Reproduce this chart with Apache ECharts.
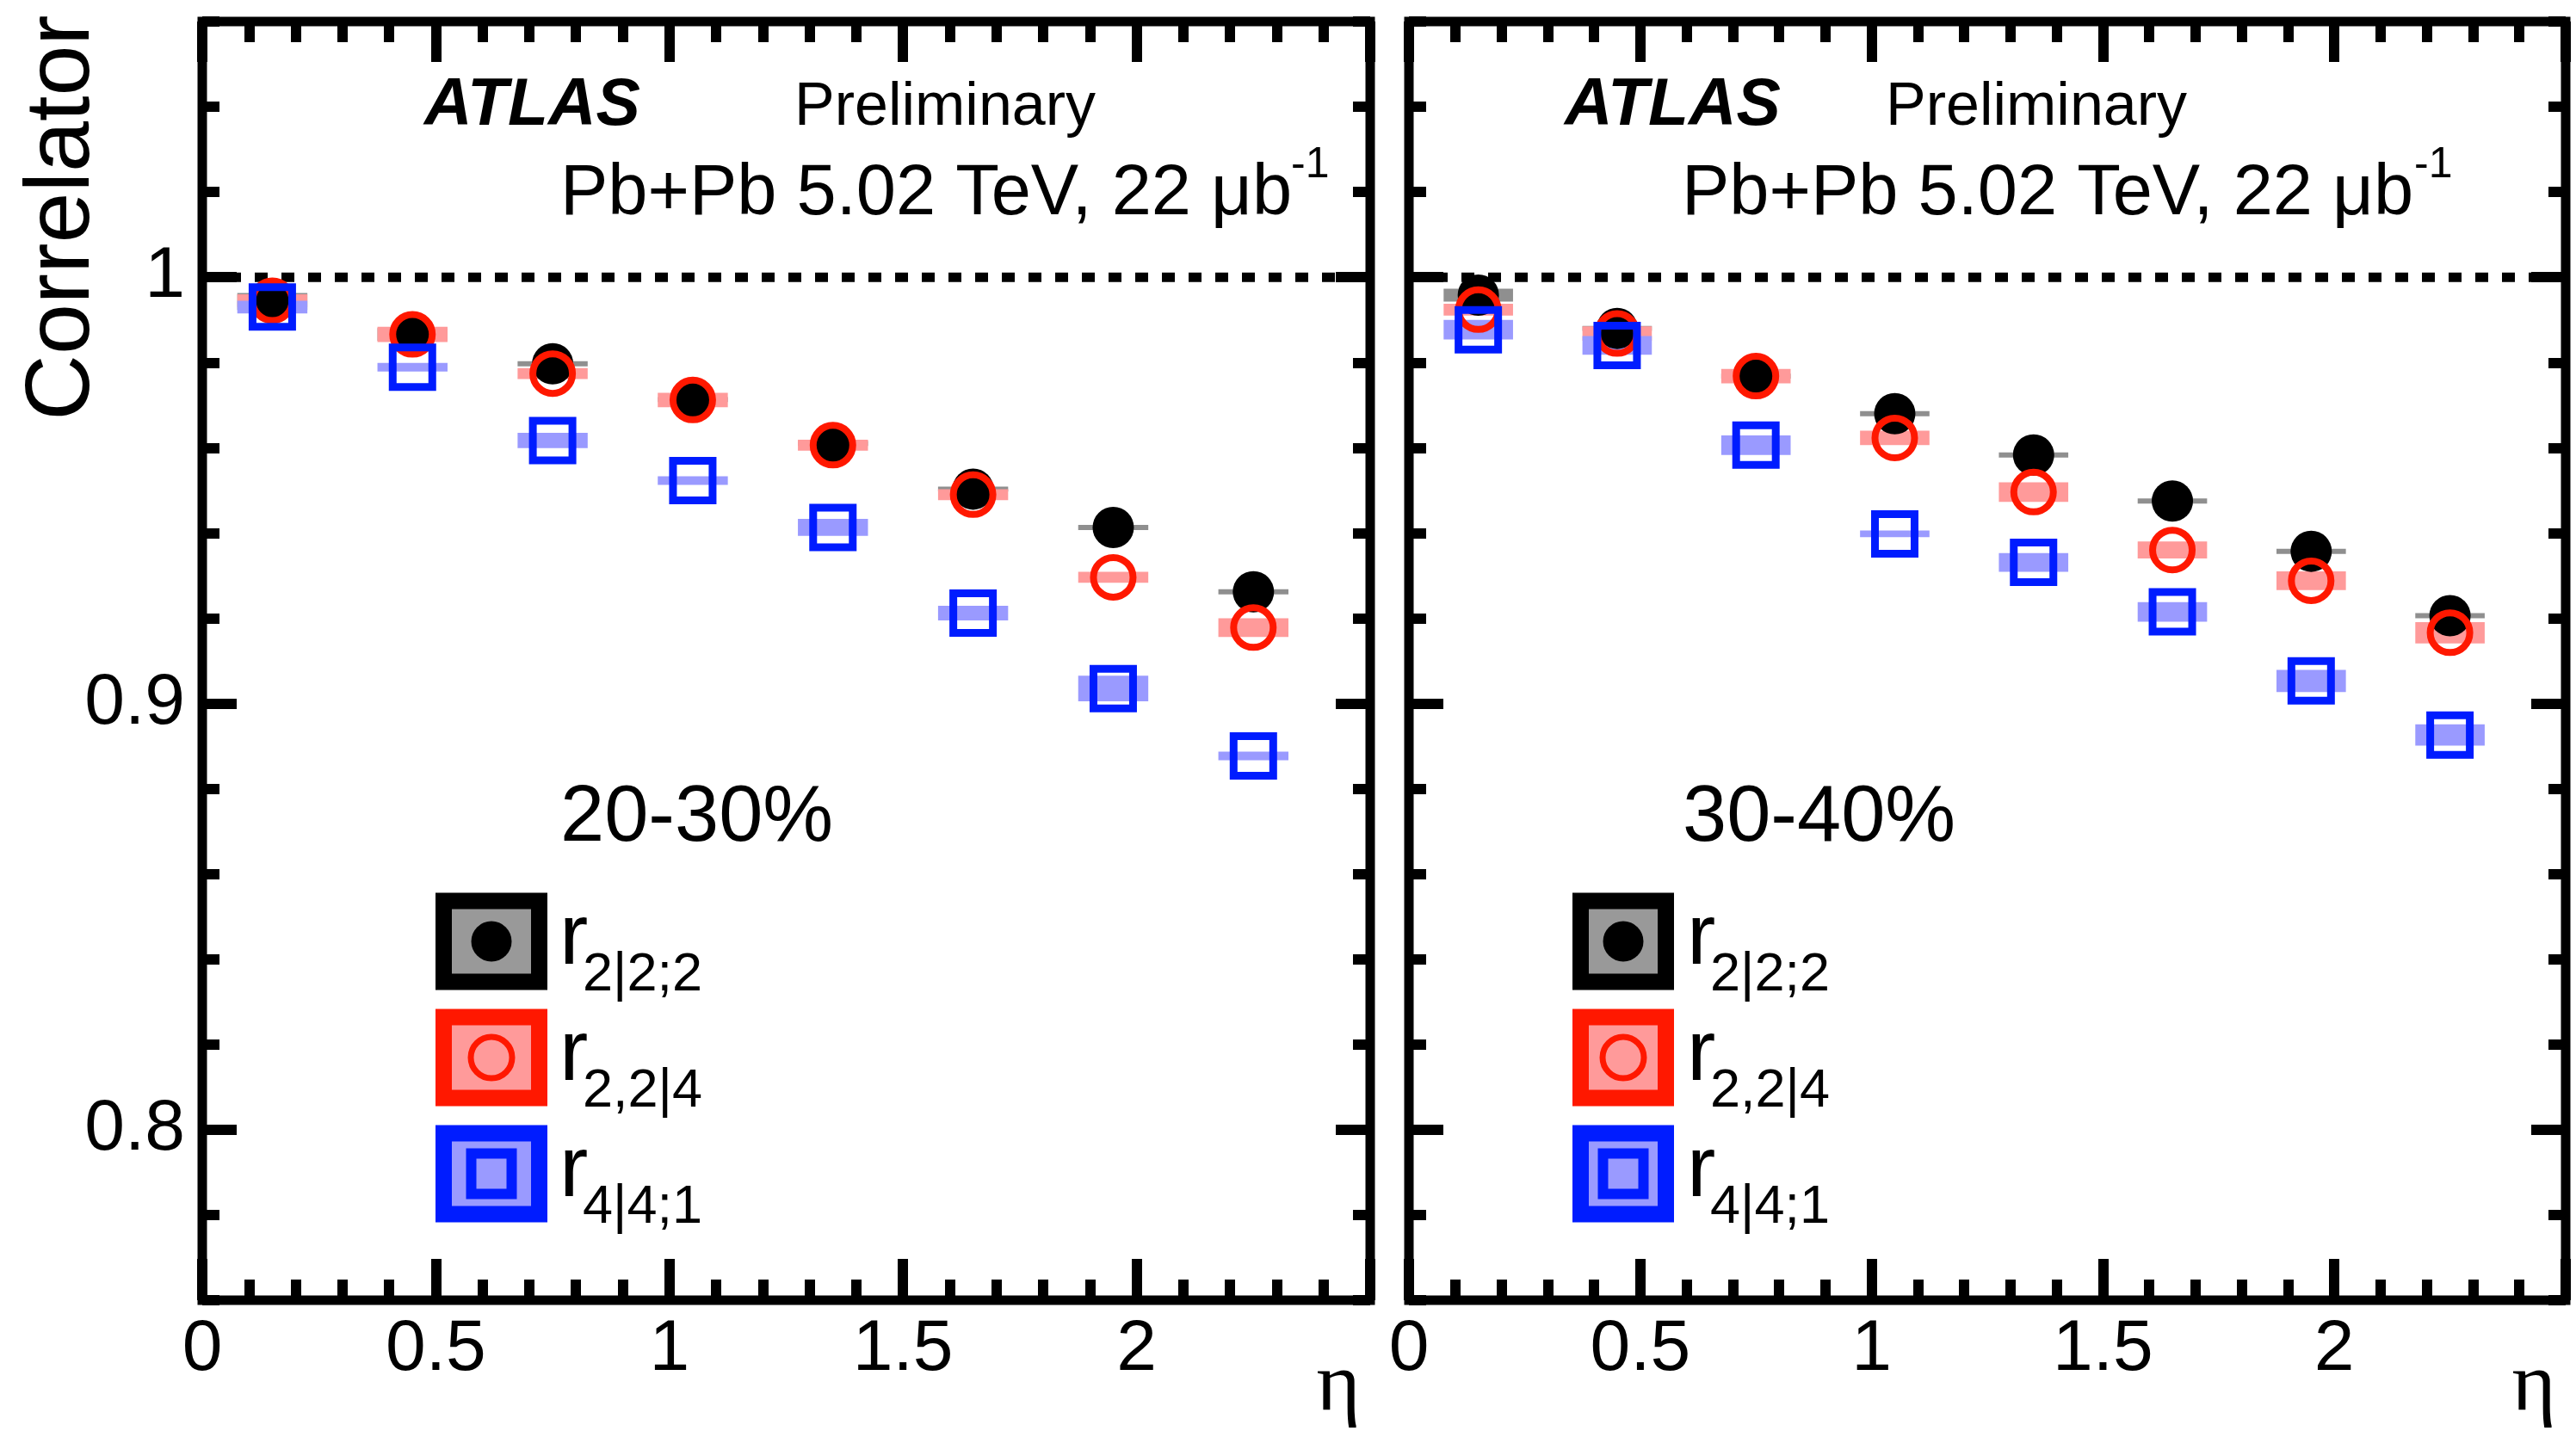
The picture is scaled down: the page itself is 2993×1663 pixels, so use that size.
<!DOCTYPE html>
<html>
<head>
<meta charset="utf-8">
<script src="https://cdn.jsdelivr.net/npm/echarts@6/dist/echarts.min.js"></script>
<style>
  html, body { margin: 0; padding: 0; background: #ffffff; }
  #chart { width: 2993px; height: 1663px; }
</style>
</head>
<body>
<div id="chart"></div>
<script>
// ---- data -------------------------------------------------------------
const etaBins = [0.15, 0.45, 0.75, 1.05, 1.35, 1.65, 1.95, 2.25];
const xTickValues = [0, 0.5, 1, 1.5, 2];
const yTickValues = [0.8, 0.9, 1];
const unityLine = [[0, 1], [2.5, 1]];
const centralityLabels = ['20-30%', '30-40%'];
const legendSubscripts = ['2|2;2', '2,2|4', '4|4;1'];

// centrality 20-30%
const r22_2030  = [0.9943, 0.9866, 0.9797, 0.9713, 0.9610, 0.9503, 0.9413, 0.9262];
const r224_2030 = [0.9945, 0.9866, 0.9774, 0.9712, 0.9606, 0.9490, 0.9296, 0.9178];
const r441_2030 = [0.9930, 0.9789, 0.9617, 0.9523, 0.9413, 0.9212, 0.9035, 0.8877];
const sys22_2030  = [0.0020, 0.0015, 0.0006, 0.0006, 0.0006, 0.0006, 0.0006, 0.0006];
const sys224_2030 = [0.0015, 0.0018, 0.0013, 0.0017, 0.0013, 0.0013, 0.0013, 0.0022];
const sys441_2030 = [0.0015, 0.0010, 0.0018, 0.0010, 0.0020, 0.0017, 0.0030, 0.0010];

// centrality 30-40%
const r22_3040  = [0.9958, 0.9880, 0.9768, 0.9680, 0.9583, 0.9475, 0.9357, 0.9206];
const r224_3040 = [0.9924, 0.9868, 0.9768, 0.9623, 0.9496, 0.9360, 0.9288, 0.9166];
const r441_3040 = [0.9877, 0.9840, 0.9606, 0.9398, 0.9331, 0.9215, 0.9053, 0.8926];
const sys22_3040  = [0.0015, 0.0006, 0.0006, 0.0006, 0.0006, 0.0006, 0.0006, 0.0006];
const sys224_3040 = [0.0014, 0.0017, 0.0017, 0.0017, 0.0023, 0.0020, 0.0022, 0.0025];
const sys441_3040 = [0.0023, 0.0022, 0.0023, 0.0008, 0.0022, 0.0023, 0.0026, 0.0025];

// ---- styling ----------------------------------------------------------
const FONT = "'Liberation Sans', Arial, Helvetica, sans-serif";
const SERIF = "'Liberation Serif', 'DejaVu Serif', serif";
const BLACK = '#000000';
const RED = '#ff1800';
const BLUE = '#001cff';
const GREY_BAND = '#8f8f8f';
const RED_BAND = '#ff9a9a';
const BLUE_BAND = '#9a9aff';
const BAND_HALF_WIDTH = 0.075;
const FRAME = 11;
const TICK_W = 12;

const panels = [
  { left: 235,  width: 1357, data: [r22_2030, r224_2030, r441_2030], sys: [sys22_2030, sys224_2030, sys441_2030], yLabels: true },
  { left: 1637, width: 1344, data: [r22_3040, r224_3040, r441_3040], sys: [sys22_3040, sys224_3040, sys441_3040], yLabels: false }
];

const tickStyle = { color: BLACK, width: TICK_W };

function xAxesFor(g) {
  const base = {
    gridIndex: g, type: 'value', min: 0, max: 2.5, interval: 0.5,
    axisLine: { show: false }, splitLine: { show: false }
  };
  return [
    Object.assign({}, base, {
      position: 'bottom',
      axisTick: { show: true, inside: true, length: 48, lineStyle: tickStyle },
      minorTick: { show: true, splitNumber: 5, length: 24, lineStyle: tickStyle },
      axisLabel: {
        show: true, customValues: xTickValues, formatter: v => String(v),
        margin: 16, fontSize: 84, color: BLACK, fontFamily: FONT
      }
    }),
    Object.assign({}, base, {
      position: 'top',
      axisTick: { show: true, inside: true, length: 47, lineStyle: tickStyle },
      minorTick: { show: true, splitNumber: 5, length: 24, lineStyle: tickStyle },
      axisLabel: { show: false }
    })
  ];
}

function yAxesFor(g, withLabels) {
  const base = {
    gridIndex: g, type: 'value', min: 0.76, max: 1.06,
    axisLine: { show: false }, splitLine: { show: false }
  };
  const major = (pos, labels) => Object.assign({}, base, {
    position: pos,
    axisTick: { show: true, inside: true, length: 40, customValues: yTickValues, lineStyle: tickStyle },
    axisLabel: labels ? {
      show: true, customValues: yTickValues, formatter: v => String(v),
      margin: 20, fontSize: 84, color: BLACK, fontFamily: FONT
    } : { show: false }
  });
  const minor = pos => Object.assign({}, base, {
    position: pos, interval: 0.02,
    axisTick: { show: true, inside: true, length: 20, lineStyle: tickStyle },
    axisLabel: { show: false }
  });
  return [major('left', withLabels), minor('left'), major('right', false), minor('right')];
}

function bandSeries(p, values, errs, color) {
  return {
    type: 'custom', xAxisIndex: 2 * p, yAxisIndex: 4 * p, silent: true, z: 2,
    data: etaBins.map((x, i) => [x, values[i], errs[i]]),
    renderItem: (params, api) => {
      const x = api.value(0), v = api.value(1), e = api.value(2);
      const a = api.coord([x - BAND_HALF_WIDTH, v + e]);
      const b = api.coord([x + BAND_HALF_WIDTH, v - e]);
      return {
        type: 'rect',
        shape: { x: a[0], y: a[1], width: b[0] - a[0], height: b[1] - a[1] },
        style: { fill: color }
      };
    }
  };
}

function markerSeries(p, values, kind) {
  const s = {
    type: 'scatter', xAxisIndex: 2 * p, yAxisIndex: 4 * p, silent: true, z: 3,
    data: etaBins.map((x, i) => [x, values[i]])
  };
  if (kind === 0) {
    s.symbol = 'circle'; s.symbolSize = 48;
    s.itemStyle = { color: BLACK, opacity: 1 };
  } else if (kind === 1) {
    s.symbol = 'circle'; s.symbolSize = 46;
    s.itemStyle = { color: 'rgba(0,0,0,0)', borderColor: RED, borderWidth: 8, opacity: 1 };
  } else {
    s.symbol = 'rect'; s.symbolSize = 46;
    s.itemStyle = { color: 'rgba(0,0,0,0)', borderColor: BLUE, borderWidth: 9, opacity: 1 };
  }
  return s;
}

const grids = [], xAxes = [], yAxes = [], series = [];
panels.forEach((pn, p) => {
  grids.push({
    left: pn.left, top: 25, width: pn.width, height: 1486,
    show: true, borderColor: BLACK, borderWidth: FRAME, backgroundColor: 'transparent'
  });
  xAxes.push(...xAxesFor(p));
  yAxes.push(...yAxesFor(p, pn.yLabels));
  series.push({
    type: 'line', xAxisIndex: 2 * p, yAxisIndex: 4 * p, silent: true, z: 1,
    data: unityLine, symbol: 'none',
    lineStyle: { color: BLACK, width: FRAME, type: [15, 16], dashOffset: 1, cap: 'butt' }
  });
  series.push(bandSeries(p, pn.data[0], pn.sys[0], GREY_BAND));
  series.push(bandSeries(p, pn.data[1], pn.sys[1], RED_BAND));
  series.push(bandSeries(p, pn.data[2], pn.sys[2], BLUE_BAND));
  series.push(markerSeries(p, pn.data[0], 0));
  series.push(markerSeries(p, pn.data[1], 1));
  series.push(markerSeries(p, pn.data[2], 2));
});

// ---- annotations ------------------------------------------------------
function txt(x, y, text, size, opts) {
  return {
    type: 'text', x, y, silent: true, z: 50,
    rotation: (opts && opts.rotation) || 0,
    style: Object.assign({
      text, fontSize: size, fontFamily: FONT, fill: BLACK,
      align: 'left', verticalAlign: 'middle'
    }, opts && opts.style)
  };
}

const annotations = [];
const panelText = [
  { atlas: 493, prelim: 923, lumi: 651, lumiSup: 1500, cent: 651, box: 571, boxW: 130, r: 650, eta: 1555 },
  { atlas: 1818, prelim: 2191, lumi: 1954, lumiSup: 2805, cent: 1955, box: 1886, boxW: 118, r: 1960, eta: 2944 }
];
const legendRows = [1094, 1229, 1364];
const legendFill = ['#999999', RED_BAND, BLUE_BAND];
const legendStroke = [BLACK, RED, BLUE];

panelText.forEach((t, p) => {
  annotations.push(txt(t.atlas, 124, 'ATLAS', 77, { style: { fontWeight: 'bold', fontStyle: 'italic' } }));
  annotations.push(txt(t.prelim, 126, 'Preliminary', 70));
  annotations.push(txt(t.lumi, 226, 'Pb+Pb 5.02 TeV, 22 \u03bcb', 83));
  annotations.push(txt(t.lumiSup, 192, '-1', 50));
  annotations.push(txt(t.cent, 952, centralityLabels[p], 92));
  annotations.push(txt(t.eta, 1612, '\u03b7', 98, { style: { fontFamily: SERIF, align: 'center' } }));

  legendRows.forEach((cy, k) => {
    const w = t.boxW - 19, h = 113 - 19;
    annotations.push({
      type: 'rect', silent: true, z: 40,
      shape: { x: t.box - w / 2, y: cy - h / 2, width: w, height: h },
      style: { fill: legendFill[k], stroke: legendStroke[k], lineWidth: 19 }
    });
    if (k === 0) {
      annotations.push({ type: 'circle', silent: true, z: 41, shape: { cx: t.box, cy, r: 23.5 }, style: { fill: BLACK } });
    } else if (k === 1) {
      annotations.push({ type: 'circle', silent: true, z: 41, shape: { cx: t.box, cy, r: 24 }, style: { fill: 'none', stroke: RED, lineWidth: 7 } });
    } else {
      annotations.push({ type: 'rect', silent: true, z: 41, shape: { x: t.box - 23.5, y: cy - 23.5, width: 47, height: 47 }, style: { fill: BLUE_BAND, stroke: BLUE, lineWidth: 12 } });
    }
    annotations.push(txt(t.r, cy - 2, 'r', 100));
    annotations.push(txt(t.r + 27, cy + 40, legendSubscripts[k], 63));
  });
});

annotations.push(txt(74, 253, 'Correlator', 106, { rotation: Math.PI / 2, style: { align: 'center' } }));

const chart = echarts.init(document.getElementById('chart'), null, { renderer: 'canvas' });
chart.setOption({
  animation: false,
  backgroundColor: '#ffffff',
  grid: grids,
  xAxis: xAxes,
  yAxis: yAxes,
  series: series,
  graphic: { elements: annotations }
});
</script>
</body>
</html>
